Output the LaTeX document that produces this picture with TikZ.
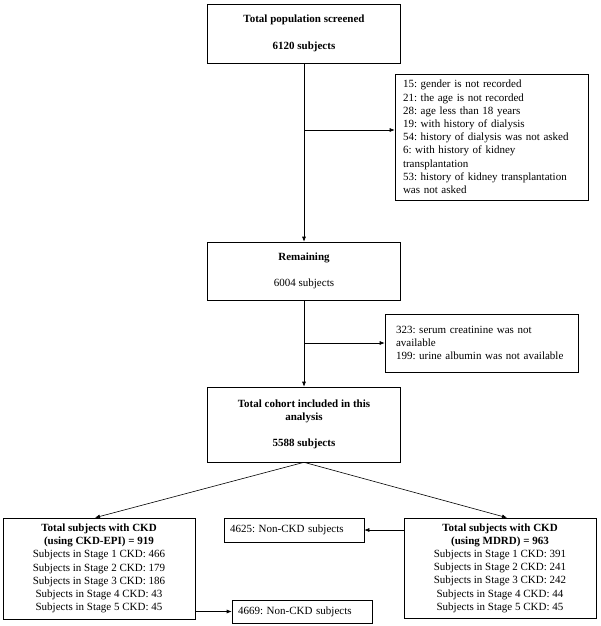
\documentclass[tikz,border=0pt]{standalone}
\usepackage{fontspec}
\setmainfont{Liberation Serif}
\usetikzlibrary{arrows.meta,positioning}

\begin{document}
\begin{tikzpicture}[x=1pt,y=-1pt,line width=0.6pt,
  every node/.style={font=\fontsize{11}{13.2}\selectfont\frenchspacing},
  mainbox/.style={draw,align=center,minimum width=193pt,inner sep=4pt},
  notebox/.style={draw,align=left,inner ysep=4pt},
  flow/.style={-{Latex[length=5pt,width=4pt]}}]

  \useasboundingbox (0,0) rectangle (600,626);

  %% main column
  \node (screened) [mainbox, minimum height=59pt] at (304,33.5) {\textbf{Total population screened}\\[13.2pt]\textbf{6120 subjects}};
  \node (remain) [mainbox, minimum height=58pt, node distance=237.5pt, below of=screened] {\textbf{Remaining}\\[13pt]6004 subjects};
  \node (cohort) [mainbox, minimum height=75pt, node distance=153.5pt, below of=remain] {\textbf{Total cohort included in this}\\\textbf{analysis}\\[13.2pt]\textbf{5588 subjects}};

  %% exclusions
  \node (excl1) [notebox, text width=177pt, inner xsep=8pt, minimum height=126pt] at (491.5,137) {15: gender is not recorded\\21: the age is not recorded\\28: age less than 18 years\\19: with history of dialysis\\54: history of dialysis was not asked\\6: with history of kidney\\transplantation\\53: history of kidney transplantation\\was not asked};
  \node (excl2) [notebox, text width=171pt, inner xsep=11pt, minimum height=58pt] at (481.5,343) {323: serum creatinine was not\\available\\199: urine albumin was not available};
  \coordinate (excl1in) at ([yshift=7pt]excl1.west);

  %% CKD groups
  \node (epi) [mainbox, minimum width=192pt, minimum height=101pt] at (99,568.5) {\textbf{Total subjects with CKD}\\\textbf{(using CKD-EPI) = 919}\\Subjects in Stage 1 CKD: 466\\Subjects in Stage 2 CKD: 179\\Subjects in Stage 3 CKD: 186\\Subjects in Stage 4 CKD: 43\\Subjects in Stage 5 CKD: 45};
  \node (mdrd) [mainbox, minimum width=192pt, minimum height=100pt] at (500,568) {\textbf{Total subjects with CKD}\\\textbf{(using MDRD) = 963}\\Subjects in Stage 1 CKD: 391\\Subjects in Stage 2 CKD: 241\\Subjects in Stage 3 CKD: 242\\Subjects in Stage 4 CKD: 44\\Subjects in Stage 5 CKD: 45};

  \node (non1) [notebox, text width=128pt, inner xsep=6pt, minimum height=24pt] at (294,530) {4625: Non-CKD subjects};
  \node (non2) [notebox, text width=128pt, inner xsep=6pt, minimum height=23pt] at (302,611.5) {4669: Non-CKD subjects};

  %% connectors
  \draw[flow] (screened.south) -- (screened.south |- remain.north);
  \draw[flow] (screened.south |- excl1in) -- (excl1in);
  \draw[flow] (remain.south) -- (cohort.north);
  \draw[flow] (remain.south |- excl2.west) -- (excl2.west);
  \draw[flow] (cohort.south) -- ([xshift=-4pt]epi.north);
  \draw[flow] (cohort.south) -- ([xshift=7pt]mdrd.north);
  \draw[flow] (non1.east -| mdrd.west) -- (non1.east);
  \draw[flow] (non2.west -| epi.east) -- (non2.west);

\end{tikzpicture}
\end{document}
